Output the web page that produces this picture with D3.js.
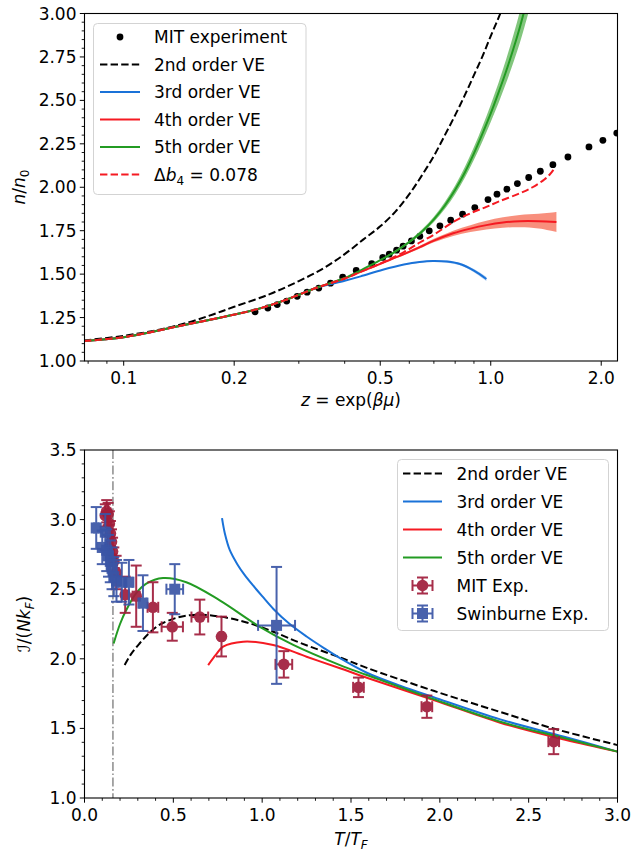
<!DOCTYPE html>
<html>
<head>
<meta charset="utf-8">
<script src="https://cdn.jsdelivr.net/npm/d3@7"></script>
<style>
  body { margin: 0; background: #fff; }
  text { font-family: "DejaVu Sans", sans-serif; }
</style>
</head>
<body>
<div id="chart"></div>
<script>
// ---------- top panel data: n/n0 vs z ----------
var mitZ = [0.228,0.247,0.262,0.278,0.297,0.316,0.340,0.366,0.395,0.430,0.474,0.508,0.529,0.554,0.577,0.608,0.641,0.680,0.727,0.778,0.838,0.905,0.983,1.040,1.107,1.182,1.269,1.365,1.477,1.623,1.852,2.021,2.205];
var mitN = [1.283,1.305,1.325,1.345,1.372,1.396,1.420,1.448,1.483,1.521,1.561,1.596,1.615,1.638,1.661,1.691,1.718,1.749,1.778,1.810,1.845,1.883,1.929,1.960,1.989,2.021,2.056,2.092,2.130,2.174,2.232,2.270,2.312];

var commonTop = [[0.078,1.115],[0.102,1.140],[0.146,1.207],[0.192,1.259],[0.230,1.297],[0.274,1.349],[0.337,1.423]];
var ve2Top = [[0.078,1.118],[0.100,1.145],[0.125,1.180],[0.150,1.222],[0.175,1.268],[0.200,1.312],[0.250,1.385],[0.300,1.460],[0.350,1.533],[0.400,1.615],[0.450,1.700],[0.500,1.775],[0.550,1.860],[0.600,1.960],[0.650,2.070],[0.700,2.180],[0.750,2.300],[0.800,2.415],[0.850,2.530],[0.900,2.645],[0.950,2.755],[1.000,2.870],[1.050,2.975],[1.100,3.080]];
var ve3Top = commonTop.concat([[0.400,1.462],[0.442,1.487],[0.508,1.525],[0.580,1.555],[0.640,1.570],[0.696,1.576],[0.760,1.572],[0.824,1.558],[0.900,1.520],[0.973,1.472]]);
var ve4Top = commonTop.concat([[0.400,1.475],[0.442,1.513],[0.508,1.565],[0.580,1.615],[0.641,1.655],[0.700,1.693],[0.790,1.735],[0.880,1.762],[0.973,1.782],[1.080,1.797],[1.200,1.805],[1.350,1.805],[1.510,1.800]]);
var ve5Top = commonTop.concat([[0.400,1.478],[0.450,1.530],[0.500,1.580],[0.550,1.630],[0.600,1.685],[0.650,1.745],[0.700,1.815],[0.750,1.895],[0.800,1.985],[0.850,2.085],[0.900,2.195],[0.950,2.310],[1.000,2.425],[1.050,2.545],[1.100,2.665],[1.150,2.790],[1.200,2.920],[1.250,3.060],[1.280,3.150]]);
var db4Top = commonTop.concat([[0.400,1.475],[0.442,1.513],[0.508,1.567],[0.580,1.627],[0.641,1.682],[0.700,1.727],[0.790,1.800],[0.880,1.850],[0.973,1.887],[1.058,1.920],[1.200,1.965],[1.300,2.000],[1.400,2.045],[1.450,2.075],[1.490,2.107]]);

// uncertainty bands [z, low, high]
var ve3Band = [[0.580,1.553,1.557],[0.696,1.571,1.581],[0.760,1.566,1.578],[0.824,1.551,1.565],[0.900,1.511,1.529],[0.973,1.460,1.484]];
var ve4Band = [[0.500,1.557,1.563],[0.580,1.609,1.621],[0.641,1.647,1.663],[0.700,1.683,1.703],[0.790,1.720,1.750],[0.880,1.742,1.782],[0.973,1.757,1.807],[1.080,1.767,1.827],[1.200,1.770,1.840],[1.350,1.763,1.847],[1.510,1.743,1.857]];
var ve5Band = [[0.500,1.577,1.583],[0.600,1.677,1.693],[0.700,1.800,1.830],[0.800,1.960,2.010],[0.900,2.158,2.232],[1.000,2.375,2.475],[1.100,2.597,2.733],[1.200,2.830,3.010],[1.280,3.040,3.260]];

var topXTicks = [0.1, 0.2, 0.5, 1.0, 2.0];
var topXMinor = [0.08, 0.09, 0.3, 0.4, 0.6, 0.7, 0.8, 0.9];
var topYTicks = [1.00, 1.25, 1.50, 1.75, 2.00, 2.25, 2.50, 2.75, 3.00];

// ---------- bottom panel data: I/(N kF) vs T/TF ----------
var mitT    = [0.117,0.125,0.133,0.140,0.146,0.152,0.158,0.165,0.178,0.229,0.291,0.385,0.494,0.649,0.771,1.122,1.542,1.927,2.641];
var mitI    = [3.03,3.06,3.04,2.97,2.90,2.84,2.77,2.70,2.62,2.46,2.45,2.37,2.23,2.30,2.16,1.96,1.795,1.656,1.405];
var mitIerr = [0.08,0.08,0.08,0.09,0.09,0.09,0.10,0.10,0.12,0.13,0.22,0.18,0.10,0.125,0.143,0.095,0.07,0.08,0.09];
var mitTerr = [0.01,0.01,0.01,0.01,0.01,0.01,0.01,0.01,0.015,0.02,0.02,0.03,0.06,0.047,0.01,0.047,0.03,0.03,0.03];

var swT    = [0.066,0.100,0.117,0.125,0.135,0.145,0.155,0.165,0.180,0.210,0.250,0.329,0.508,1.081];
var swI    = [2.94,2.80,2.91,2.78,2.74,2.70,2.65,2.59,2.56,2.55,2.55,2.40,2.50,2.24];
var swIerr = [0.15,0.12,0.13,0.15,0.15,0.15,0.15,0.14,0.15,0.14,0.16,0.20,0.18,0.42];
var swTerr = [0.012,0.01,0.01,0.01,0.01,0.01,0.01,0.01,0.015,0.02,0.02,0.02,0.047,0.104];

var ve2Bot = [[0.226,1.955],[0.26,2.03],[0.31,2.11],[0.36,2.18],[0.423,2.245],[0.52,2.295],[0.611,2.315],[0.724,2.31],[0.874,2.275],[1.0,2.225],[1.081,2.185],[1.213,2.115],[1.438,2.01],[1.589,1.935],[1.965,1.77],[2.34,1.618],[2.623,1.505],[3.0,1.38]];
var ve3Bot = [[0.774,3.01],[0.790,2.90],[0.818,2.78],[0.860,2.68],[0.900,2.605],[0.950,2.525],[1.000,2.45],[1.062,2.36],[1.150,2.255],[1.250,2.16],[1.350,2.075],[1.438,2.005],[1.589,1.90],[1.780,1.805],[1.965,1.724],[2.340,1.565],[2.700,1.44],[3.000,1.333]];
var ve4Bot = [[0.696,1.955],[0.74,2.03],[0.78,2.087],[0.893,2.123],[1.062,2.099],[1.25,2.015],[1.438,1.932],[1.589,1.864],[1.965,1.704],[2.34,1.541],[2.7,1.42],[3.0,1.333]];
var ve5Bot = [[0.164,2.11],[0.2,2.25],[0.235,2.35],[0.29,2.47],[0.348,2.54],[0.442,2.58],[0.573,2.55],[0.761,2.42],[0.987,2.23],[1.175,2.10],[1.438,1.955],[1.589,1.884],[1.965,1.71],[2.34,1.548],[2.7,1.43],[3.0,1.333]];
var tCrit = 0.16;

var botXTicks = [0.0, 0.5, 1.0, 1.5, 2.0, 2.5, 3.0];
var botYTicks = [1.0, 1.5, 2.0, 2.5, 3.0, 3.5];

// ---------- styles ----------
var cBlue = "#1a72d8", cRed = "#f51a22", cGreen = "#239b23";
var cMit = "#a01d3b", cSw = "#3a55a6";
var FS = 17;

var svg = d3.select("#chart").append("svg").attr("width", 632).attr("height", 855);

function drawAxes(x, y, xMajor, xMinor, yMajor, yMinor, xFmt, yFmt, top, bottom) {
  var left = x.range()[0], right = x.range()[1];
  var g = svg.append("g");
  var ax = g.append("g").attr("transform", "translate(0," + bottom + ")");
  ax.selectAll(".mi").data(xMinor).enter().append("line")
    .attr("x1", d => x(d)).attr("x2", d => x(d)).attr("y1", 0).attr("y2", 2.8)
    .attr("stroke", "black").attr("stroke-width", 0.9);
  ax.selectAll(".ma").data(xMajor).enter().append("line")
    .attr("x1", d => x(d)).attr("x2", d => x(d)).attr("y1", 0).attr("y2", 4.7)
    .attr("stroke", "black").attr("stroke-width", 1);
  ax.selectAll("text").data(xMajor).enter().append("text")
    .attr("x", d => x(d)).attr("y", 23).attr("text-anchor", "middle")
    .attr("font-size", FS).text(xFmt);
  var ay = g.append("g").attr("transform", "translate(" + left + ",0)");
  ay.selectAll(".mi").data(yMinor).enter().append("line")
    .attr("y1", d => y(d)).attr("y2", d => y(d)).attr("x1", 0).attr("x2", -2.8)
    .attr("stroke", "black").attr("stroke-width", 0.9);
  ay.selectAll(".ma").data(yMajor).enter().append("line")
    .attr("y1", d => y(d)).attr("y2", d => y(d)).attr("x1", 0).attr("x2", -4.7)
    .attr("stroke", "black").attr("stroke-width", 1);
  ay.selectAll("text").data(yMajor).enter().append("text")
    .attr("x", -8).attr("y", d => y(d) + 6).attr("text-anchor", "end")
    .attr("font-size", FS).text(yFmt);
  g.append("rect").attr("x", left).attr("y", top).attr("width", right - left).attr("height", bottom - top)
    .attr("fill", "none").attr("stroke", "black").attr("stroke-width", 1.1);
}

// ================= TOP PANEL =================
var xTop = d3.scaleLog().domain([0.0782, 2.215]).range([84.5, 617.5]);
var yTop = d3.scaleLinear().domain([1, 3]).range([361, 13.5]);

svg.append("clipPath").attr("id", "clipTop").append("rect")
  .attr("x", 84.5).attr("y", 13.5).attr("width", 533).attr("height", 347.5);
var gt = svg.append("g").attr("clip-path", "url(#clipTop)");

var curve = d3.curveCatmullRom.alpha(0.5);
var lineTop = d3.line().x(d => xTop(d[0])).y(d => yTop(d[1])).curve(curve);
var bandTop = d3.area().x(d => xTop(d[0])).y0(d => yTop(d[1])).y1(d => yTop(d[2])).curve(curve);

// experiment dots (plotted first)
gt.selectAll(".dot").data(mitZ).enter().append("circle")
  .attr("cx", d => xTop(d)).attr("cy", (d, i) => yTop(mitN[i])).attr("r", 3.4).attr("fill", "black");

gt.append("path").attr("d", lineTop(ve2Top)).attr("fill", "none").attr("stroke", "black")
  .attr("stroke-width", 2).attr("stroke-dasharray", "7.4,3.2");
gt.append("path").attr("d", bandTop(ve3Band)).attr("fill", "#9cc3f0").attr("opacity", 0.8);
gt.append("path").attr("d", lineTop(ve3Top)).attr("fill", "none").attr("stroke", cBlue).attr("stroke-width", 2);
gt.append("path").attr("d", bandTop(ve4Band)).attr("fill", "#f7836f").attr("opacity", 0.9);
gt.append("path").attr("d", lineTop(ve4Top)).attr("fill", "none").attr("stroke", cRed).attr("stroke-width", 2);
gt.append("path").attr("d", bandTop(ve5Band)).attr("fill", "#74c06f").attr("opacity", 0.9);
gt.append("path").attr("d", lineTop(ve5Top)).attr("fill", "none").attr("stroke", cGreen).attr("stroke-width", 2);
gt.append("path").attr("d", lineTop(db4Top)).attr("fill", "none").attr("stroke", cRed)
  .attr("stroke-width", 2).attr("stroke-dasharray", "7.4,3.2");

var yTopMinor = d3.range(1, 3.001, 0.05).filter(v => Math.abs((v * 4) - Math.round(v * 4)) > 1e-6);
drawAxes(xTop, yTop, topXTicks, topXMinor, topYTicks, yTopMinor,
  d => d3.format(".1f")(d), d => d3.format(".2f")(d), 13.5, 361);

// axis labels
var xl = svg.append("text").attr("x", 351).attr("y", 406).attr("text-anchor", "middle").attr("font-size", FS);
xl.append("tspan").attr("font-style", "italic").text("z");
xl.append("tspan").text(" = exp(");
xl.append("tspan").attr("font-style", "italic").text("βμ");
xl.append("tspan").text(")");

var yl = svg.append("text").attr("transform", "translate(25,187) rotate(-90)").attr("text-anchor", "middle").attr("font-size", FS);
yl.append("tspan").attr("font-style", "italic").text("n");
yl.append("tspan").text("/");
yl.append("tspan").attr("font-style", "italic").text("n");
yl.append("tspan").attr("font-size", 12).attr("dy", 4).text("0");

// legend top
var lt = svg.append("g");
lt.append("rect").attr("x", 93.5).attr("y", 23.5).attr("width", 212.5).attr("height", 171).attr("rx", 4)
  .attr("fill", "white").attr("fill-opacity", 0.8).attr("stroke", "#d3d3d3").attr("stroke-width", 1);
var topLeg = [
  {label: "MIT experiment", kind: "dot"},
  {label: "2nd order VE", color: "black", dash: "7.4,3.2"},
  {label: "3rd order VE", color: cBlue},
  {label: "4th order VE", color: cRed},
  {label: "5th order VE", color: cGreen},
  {label: "db4", color: cRed, dash: "7.4,3.2"}
];
topLeg.forEach(function (e, i) {
  var cy = 37 + i * 27.5;
  if (e.kind === "dot") {
    lt.append("circle").attr("cx", 120).attr("cy", cy).attr("r", 3.4).attr("fill", "black");
  } else {
    lt.append("line").attr("x1", 100).attr("x2", 140).attr("y1", cy).attr("y2", cy)
      .attr("stroke", e.color).attr("stroke-width", 2).attr("stroke-dasharray", e.dash || null);
  }
  var t = lt.append("text").attr("x", 154).attr("y", cy + 6).attr("font-size", FS);
  if (e.label === "db4") {
    t.append("tspan").text("Δ");
    t.append("tspan").attr("font-style", "italic").text("b");
    t.append("tspan").attr("font-size", 12).attr("dy", 4).text("4");
    t.append("tspan").attr("dy", -4).text(" = 0.078");
  } else {
    t.text(e.label);
  }
});

// ================= BOTTOM PANEL =================
var xBot = d3.scaleLinear().domain([0, 3]).range([84.5, 617.5]);
var yBot = d3.scaleLinear().domain([1, 3.5]).range([798, 450]);

svg.append("clipPath").attr("id", "clipBot").append("rect")
  .attr("x", 84.5).attr("y", 450).attr("width", 533).attr("height", 348);
var gb = svg.append("g").attr("clip-path", "url(#clipBot)");

gb.append("line").attr("x1", xBot(tCrit)).attr("x2", xBot(tCrit)).attr("y1", 450).attr("y2", 798)
  .attr("stroke", "#a0a0a0").attr("stroke-width", 1.8).attr("stroke-dasharray", "9,2.5,1.6,2.5");

var lineBot = d3.line().x(d => xBot(d[0])).y(d => yBot(d[1])).curve(curve);
gb.append("path").attr("d", lineBot(ve2Bot)).attr("fill", "none").attr("stroke", "black")
  .attr("stroke-width", 2).attr("stroke-dasharray", "7.4,3.2");
gb.append("path").attr("d", lineBot(ve3Bot)).attr("fill", "none").attr("stroke", cBlue).attr("stroke-width", 2);
gb.append("path").attr("d", lineBot(ve4Bot)).attr("fill", "none").attr("stroke", cRed).attr("stroke-width", 2);
gb.append("path").attr("d", lineBot(ve5Bot)).attr("fill", "none").attr("stroke", cGreen).attr("stroke-width", 2);

function errGlyph(g, cx, cy, dx, dy, color, shape) {
  var cap = 5.5;
  var e = g.append("g").attr("opacity", 0.92);
  e.append("line").attr("x1", cx).attr("x2", cx).attr("y1", cy - dy).attr("y2", cy + dy).attr("stroke", color).attr("stroke-width", 2);
  e.append("line").attr("x1", cx - dx).attr("x2", cx + dx).attr("y1", cy).attr("y2", cy).attr("stroke", color).attr("stroke-width", 2);
  [cy - dy, cy + dy].forEach(function (yy) {
    e.append("line").attr("x1", cx - cap).attr("x2", cx + cap).attr("y1", yy).attr("y2", yy).attr("stroke", color).attr("stroke-width", 2);
  });
  [cx - dx, cx + dx].forEach(function (xx) {
    e.append("line").attr("x1", xx).attr("x2", xx).attr("y1", cy - cap).attr("y2", cy + cap).attr("stroke", color).attr("stroke-width", 2);
  });
  if (shape === "circle") {
    e.append("circle").attr("cx", cx).attr("cy", cy).attr("r", 5.8).attr("fill", color);
  } else {
    e.append("rect").attr("x", cx - 5.5).attr("y", cy - 5.5).attr("width", 11).attr("height", 11).attr("fill", color);
  }
}

var gm = svg.append("g");
mitT.forEach(function (t, i) {
  errGlyph(gm, xBot(t), yBot(mitI[i]), xBot(t + mitTerr[i]) - xBot(t), yBot(mitI[i] - mitIerr[i]) - yBot(mitI[i]), cMit, "circle");
});
swT.forEach(function (t, i) {
  errGlyph(gm, xBot(t), yBot(swI[i]), xBot(t + swTerr[i]) - xBot(t), yBot(swI[i] - swIerr[i]) - yBot(swI[i]), cSw, "square");
});

drawAxes(xBot, yBot, botXTicks, d3.range(0.1, 3, 0.1).filter(v => Math.abs(v * 2 - Math.round(v * 2)) > 1e-6),
  botYTicks, d3.range(1.1, 3.5, 0.1).filter(v => Math.abs(v * 2 - Math.round(v * 2)) > 1e-6),
  d => d3.format(".1f")(d), d => d3.format(".1f")(d), 450, 798);

var xl2 = svg.append("text").attr("x", 351).attr("y", 845).attr("text-anchor", "middle").attr("font-size", FS);
xl2.append("tspan").attr("font-style", "italic").text("T");
xl2.append("tspan").text("/");
xl2.append("tspan").attr("font-style", "italic").text("T");
xl2.append("tspan").attr("font-style", "italic").attr("font-size", 12).attr("dy", 4).text("F");

var yl2 = svg.append("text").attr("transform", "translate(30,624) rotate(-90)").attr("text-anchor", "middle").attr("font-size", FS);
yl2.append("tspan").attr("font-style", "italic").text("ℐ");
yl2.append("tspan").text("/(");
yl2.append("tspan").attr("font-style", "italic").text("Nk");
yl2.append("tspan").attr("font-style", "italic").attr("font-size", 12).attr("dy", 4).text("F");
yl2.append("tspan").attr("dy", -4).text(")");

// legend bottom
var lb = svg.append("g");
lb.append("rect").attr("x", 397.5).attr("y", 459.5).attr("width", 211).attr("height", 171).attr("rx", 4)
  .attr("fill", "white").attr("fill-opacity", 0.8).attr("stroke", "#d3d3d3").attr("stroke-width", 1);
var botLeg = [
  {label: "2nd order VE", color: "black", dash: "7.4,3.2"},
  {label: "3rd order VE", color: cBlue},
  {label: "4th order VE", color: cRed},
  {label: "5th order VE", color: cGreen},
  {label: "MIT Exp.", color: cMit, shape: "circle"},
  {label: "Swinburne Exp.", color: cSw, shape: "square"}
];
botLeg.forEach(function (e, i) {
  var cy = 473.5 + i * 28;
  if (e.shape) {
    errGlyph(lb, 422.5, cy, 10, 8, e.color, e.shape);
  } else {
    lb.append("line").attr("x1", 403).attr("x2", 442).attr("y1", cy).attr("y2", cy)
      .attr("stroke", e.color).attr("stroke-width", 2).attr("stroke-dasharray", e.dash || null);
  }
  lb.append("text").attr("x", 456.5).attr("y", cy + 6).attr("font-size", FS).text(e.label);
});
</script>
</body>
</html>
